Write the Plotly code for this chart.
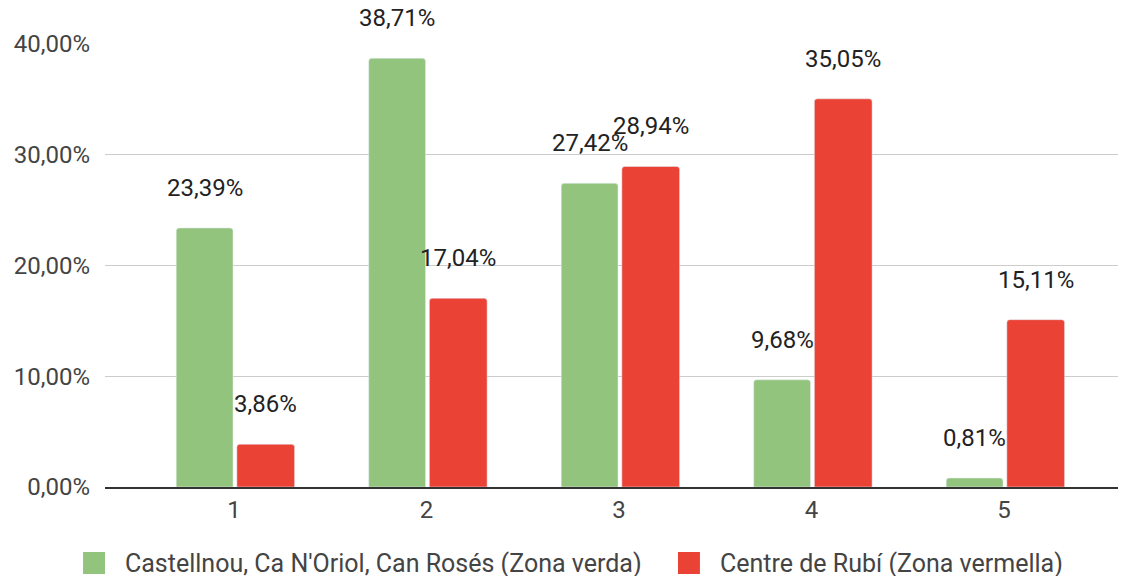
import plotly.graph_objects as go

categories = [1, 2, 3, 4, 5]
verda = [23.39, 38.71, 27.42, 9.68, 0.81]
vermella = [3.86, 17.04, 28.94, 35.05, 15.11]
names = ["Castellnou, Ca N'Oriol, Can Rosés (Zona verda)", "Centre de Rubí (Zona vermella)"]
colors = ["#93c47d", "#ea4335"]
y_ticks = [0, 10, 20, 30, 40]


def pct(v):
    return f"{v:.2f}".replace(".", ",") + "%"


fig = go.Figure()

fig.add_trace(go.Bar(
    x=categories, y=verda, name=names[0],
    marker_color=colors[0], width=0.295, offset=-0.30,
))
fig.add_trace(go.Bar(
    x=categories, y=vermella, name=names[1],
    marker_color=colors[1], width=0.30, offset=0.015,
))

# data labels floating above each bar
for x, v in zip(categories, verda):
    fig.add_annotation(x=x - 0.152, y=v, text=pct(v), showarrow=False,
                       yshift=40, font=dict(size=24, color="#222"))
for x, v in zip(categories, vermella):
    fig.add_annotation(x=x + 0.165, y=v, text=pct(v), showarrow=False,
                       yshift=40, font=dict(size=24, color="#222"))

# legend drawn by hand so the swatches are the right size
legend_pos = [(-0.0215, 0.0176), (0.5612, 0.6004)]
for (sx, tx), name, c in zip(legend_pos, names, colors):
    fig.add_shape(type="rect", xref="paper", yref="paper",
                  x0=sx, x1=sx + 0.0215, y0=-0.1964, y1=-0.1467,
                  fillcolor=c, line_width=0)
    fig.add_annotation(xref="paper", yref="paper", x=tx, y=-0.1716,
                       xanchor="left", yanchor="middle", text=name,
                       showarrow=False, font=dict(size=25, color="#444"))

fig.update_layout(
    width=1126, height=576,
    margin=dict(l=97, r=8, t=36, b=97),
    plot_bgcolor="white", paper_bgcolor="white",
    font=dict(family="Roboto", size=24, color="#444"),
    barcornerradius=3,
    showlegend=False,
    xaxis=dict(range=[0.33, 5.634], tickvals=categories, showgrid=False,
               showline=True, linecolor="#333", linewidth=1.5, ticks=""),
    yaxis=dict(range=[0, 40], tickvals=y_ticks, ticktext=[pct(t) for t in y_ticks],
               gridcolor="#ccc", gridwidth=1, zeroline=False, ticklabelstandoff=14,
               automargin=False),
)

fig.write_html("out.html")
